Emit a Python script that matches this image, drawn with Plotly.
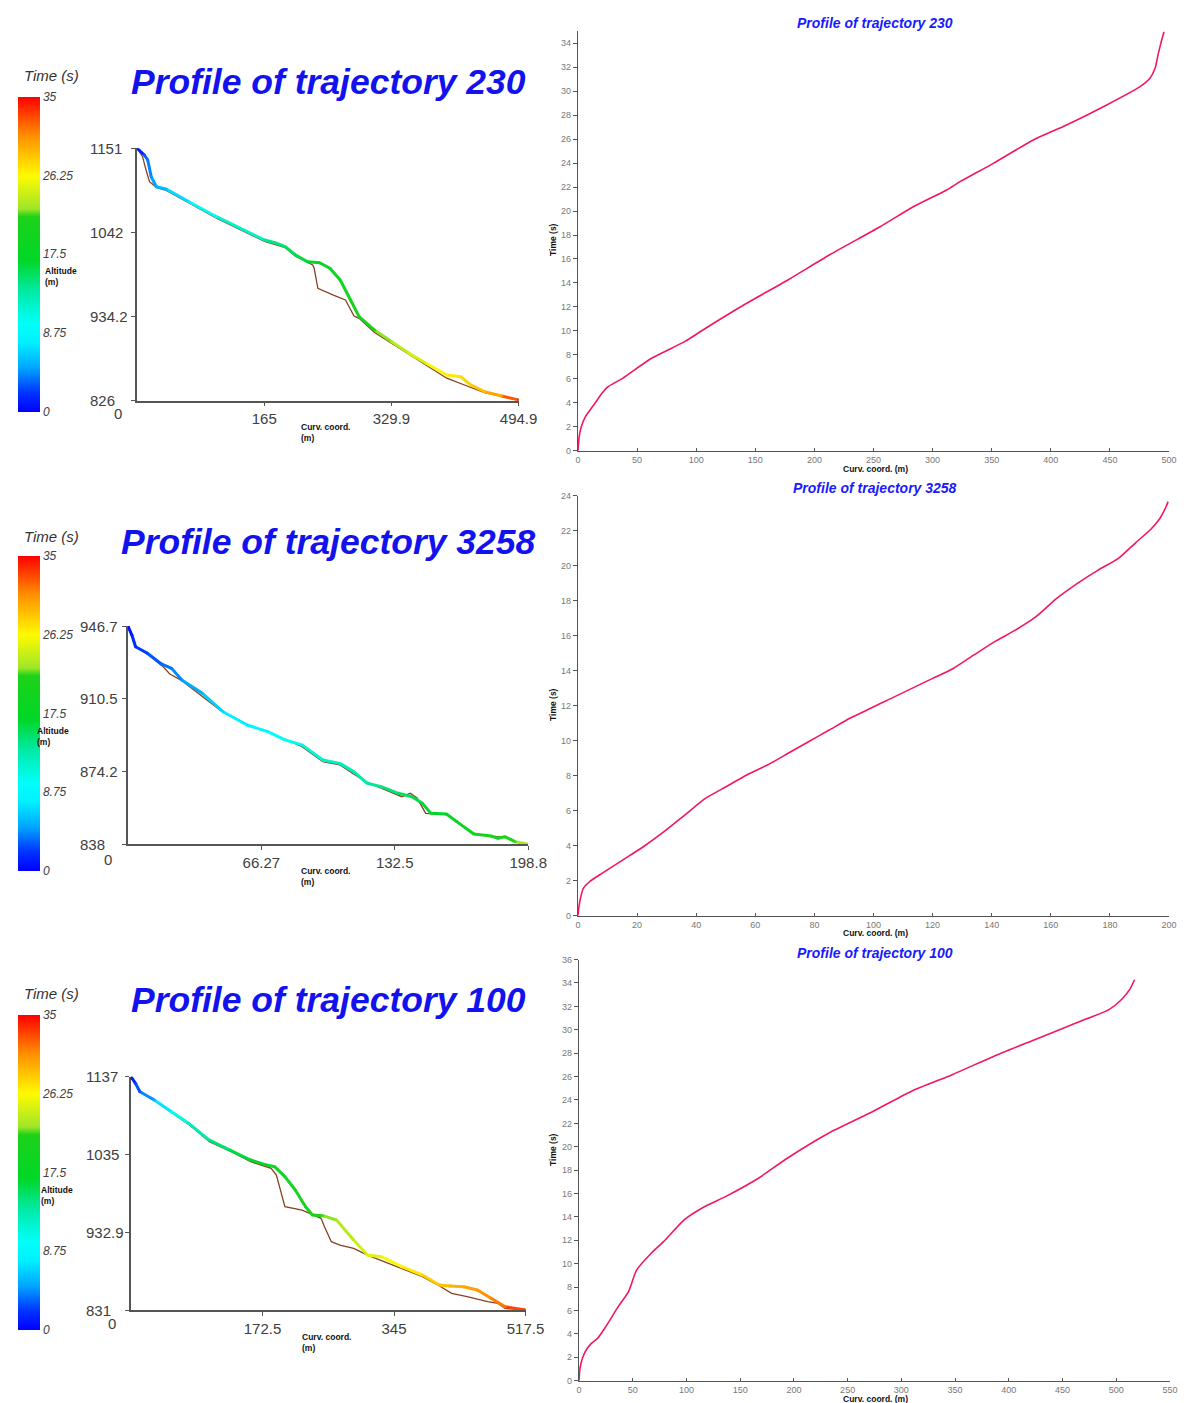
import plotly.graph_objects as go
from plotly.colors import sample_colorscale

W, H = 1187, 1403


def fx(px):
    return px / W


def fy(py):
    return 1 - py / H


# ---------------- data ----------------
traj_names = ["230", "3258", "100"]

# trajectory 230 : altitude profile (coloured by time) and terrain
s_230 = [0, 9.4, 13.8, 18.3, 25, 38.4, 67.3, 103, 165.4, 178.8, 192.2, 205.6, 221.1, 236.8,
         250.1, 263.5, 276.9, 288, 308, 330.4, 352.7, 374.9, 401.7, 419.6, 433, 450.8, 473.1, 494.9]
z_230 = [1151, 1142.4, 1135.9, 1114.4, 1101.5, 1098.2, 1082.2, 1062.9, 1032.9, 1029.4, 1024.3, 1013.6,
         1005, 1003.7, 996.5, 981.4, 955.7, 934.2, 917, 902, 887, 874.2, 859.1, 856.9, 846.2, 837.6, 832.1, 826.9]
t_230 = [0, 3.0, 3.8, 4.5, 5.3, 6.1, 7.9, 10.3, 13.6, 14.3, 15.0, 15.7, 16.6, 17.5,
         18.3, 19.1, 19.9, 20.6, 21.6, 23.3, 24.05, 25.3, 26.6, 27.5, 28.1, 29.0, 30.25, 34.5]
s_ter_230 = [0, 7.1, 11.6, 16.1, 25, 38.4, 67.3, 103, 165.4, 192.2, 205.6, 227.8, 229.7, 234.5,
             254.6, 270.3, 281.4, 288, 308, 330.4, 374.9, 401.7, 433, 450.8, 473.1, 494.9]
z_ter_230 = [1151, 1140.2, 1123, 1108, 1100.7, 1096.5, 1080.5, 1061, 1031, 1023, 1012, 1000.7, 996.5, 970.7,
             962, 955.7, 935, 932, 914, 900, 872.5, 855, 843, 836.5, 831.5, 826.5]

# trajectory 3258
s_3258 = [0, 2, 3.8, 9.7, 16.6, 21.7, 26.8, 37, 47.3, 59.2, 69.5, 78, 86.5, 96.8, 105.3, 112.1,
          118.9, 125.8, 134.3, 141.1, 146.2, 150.5, 158.2, 163.3, 171.8, 180.4, 183.8, 187.2, 192.3, 198.8]
z_3258 = [946.7, 942.2, 936.4, 933.1, 927.8, 925.6, 919.8, 913.2, 904, 897.4, 894.1, 890, 887.5, 880,
          878.3, 874.2, 868.4, 866.7, 863.4, 861.7, 858.4, 853.4, 853.1, 849.3, 843.1, 842.1, 841, 841.8, 839.3, 838]
t_3258 = [0, 1.6, 1.9, 2.6, 3.35, 3.9, 4.5, 5.85, 7.1, 8.3, 9.1, 9.95, 10.75, 11.7, 12.35, 12.9,
          13.45, 14.0, 14.9, 15.65, 16.15, 16.6, 17.6, 18.3, 19.3, 20.2, 20.55, 21.1, 21.9, 23.4]
s_ter_3258 = [0, 3.8, 9.7, 17.4, 20.8, 26.8, 47.3, 60.9, 71.2, 86.5, 96.8, 105.3, 112.1, 118.9, 125.8,
              136, 140.3, 143.7, 147.9, 158.2, 163.3, 171.8, 180.4, 187.2, 192.3, 198.8]
z_ter_3258 = [946.7, 936.4, 932.8, 926.5, 922.8, 919.5, 903.6, 896.9, 893.3, 886.6, 879.2, 877.5, 873, 868.7, 865.9,
              861.7, 863.4, 860.9, 853.4, 852.8, 849.3, 843.1, 842.1, 841.5, 839.3, 838]

# trajectory 100
s_100 = [0, 5.9, 11.7, 30.7, 53.2, 75.7, 102.8, 129.8, 156.9, 174.9, 188.4, 201.9, 215.5, 229, 238,
         251.5, 269.6, 292.1, 310.1, 328.2, 355.2, 382.3, 404.8, 418.3, 436.4, 454.4, 472.4, 490.5, 517.5]
z_100 = [1137, 1128.3, 1117.3, 1106.4, 1091.1, 1075.8, 1053.9, 1040.8, 1027.7, 1022, 1019, 1005.9, 988.4,
         966.5, 955.6, 954.7, 949, 922.8, 903.1, 900.9, 887.8, 876.9, 863.8, 862.5, 861.6, 857.2, 846.3, 835.4, 831]
t_100 = [0, 2.5, 3.2, 5.5, 9.4, 11.7, 14.0, 15.5, 16.8, 17.8, 18.7, 19.5, 20.3, 21.0, 21.4,
         22.0, 22.9, 23.9, 24.8, 25.5, 26.3, 27.6, 28.4, 28.9, 29.6, 30.2, 30.9, 31.6, 34.3]
s_ter_100 = [0, 11.7, 30.7, 53.2, 75.7, 102.8, 129.8, 156.9, 183.9, 190.7, 201.9, 224.4, 238, 249.3, 253.8,
             262.8, 274.1, 292.1, 310.1, 337.2, 382.3, 404.8, 420.6, 440.9, 467.9, 481.4, 490.5, 517.5]
z_ter_100 = [1137, 1117.3, 1105.5, 1090, 1074.5, 1051.8, 1039.5, 1025.5, 1016.8, 1008, 966.5, 962.1, 955.6, 951.2, 940.3,
             920.6, 916.2, 911.9, 903.1, 892.2, 874.7, 862.5, 852.9, 848.5, 841.9, 839.7, 833.2, 831]

# time vs curvilinear coordinate (right panels)
tc_s_230 = [0, 1, 2.8, 6.3, 13.3, 20.3, 25.5, 37.8, 62.2, 90.2, 107.7, 142.7, 177.6, 212.6, 255.5, 283.7,
            311.9, 323.2, 351.4, 385.2, 413.4, 447.3, 475.5, 483.9, 488.2, 491, 493.8, 495.8]
tc_t_230 = [0, 1.17, 2.0, 2.84, 3.81, 4.79, 5.34, 6.04, 7.71, 9.1, 10.2, 12.3, 14.25, 16.33, 18.69, 20.36,
            21.76, 22.45, 23.98, 25.93, 27.18, 28.85, 30.38, 31.08, 31.91, 33.16, 34.27, 34.97]
tc_s_3258 = [0, 0.4, 1.8, 3.9, 8.1, 15.1, 22.1, 29.1, 36.1, 43.1, 50.1, 57.1, 64.1, 71.1, 78, 85, 92, 99,
             106, 113, 120, 127, 134, 141, 148, 155, 162, 169, 176, 182.9, 188.5, 194.1, 196.9, 199, 199.7]
tc_t_3258 = [0, 0.61, 1.56, 1.94, 2.42, 3.18, 3.94, 4.8, 5.75, 6.7, 7.37, 8.04, 8.61, 9.28, 9.94, 10.61, 11.28,
             11.85, 12.42, 12.99, 13.56, 14.13, 14.9, 15.66, 16.32, 17.09, 18.13, 18.99, 19.75, 20.42, 21.28,
             22.13, 22.7, 23.37, 23.66]
tc_s_100 = [0, 1.2, 5.8, 11.5, 17.3, 24.9, 36.5, 46.1, 53.7, 67.2, 78.7, 97.9, 117.1, 136.3, 167, 193.8,
            232.2, 270.6, 309, 347.3, 385.7, 424.1, 462.5, 493.2, 504.7, 512.4, 517]
tc_t_100 = [0, 1.2, 2.48, 3.19, 3.62, 4.62, 6.33, 7.62, 9.47, 10.9, 11.89, 13.75, 14.89, 15.74, 17.31, 19.02,
            21.16, 22.88, 24.73, 26.16, 27.72, 29.15, 30.58, 31.72, 32.57, 33.43, 34.28]

# tick labels
alt_ticks_230 = ["826", "934.2", "1042", "1151"]
alt_ticks_3258 = ["838", "874.2", "910.5", "946.7"]
alt_ticks_100 = ["831", "932.9", "1035", "1137"]
curv_ticks_230 = ["165", "329.9", "494.9"]
curv_ticks_3258 = ["66.27", "132.5", "198.8"]
curv_ticks_100 = ["172.5", "345", "517.5"]
time_cbar_ticks = ["0", "8.75", "17.5", "26.25", "35"]

# ---------------- styles ----------------
CSCALE = [[0.0, "rgb(0,0,255)"], [0.06, "rgb(0,50,255)"], [0.14, "rgb(0,165,255)"],
          [0.22, "rgb(0,240,255)"], [0.28, "rgb(0,255,250)"], [0.38, "rgb(0,235,170)"],
          [0.48, "rgb(0,215,40)"], [0.62, "rgb(30,210,25)"], [0.645, "rgb(160,230,40)"],
          [0.75, "rgb(255,250,0)"], [0.88, "rgb(255,140,0)"], [1.0, "rgb(255,0,0)"]]
TERRAIN = "rgb(135,65,35)"
TITLE_BLUE = "#1212ee"
AX_COL = "#555555"
TXT = "#404040"
FONT = "Liberation Sans, Arial, sans-serif"
NARROW = "Liberation Sans Narrow, Liberation Sans, sans-serif"

profiles = [
    dict(name="230", s=s_230, z=z_230, t=t_230, st=s_ter_230, zt=z_ter_230,
         yt=alt_ticks_230, xt=curv_ticks_230,
         xdom=(137.1, 518.6), ydom=(148.3, 400.7), lab_x=88.4,
         cbar_top=96.7, cbar_x=17.6, title_y=82, time_y=75, alt_lab=(43.3, 276), curv_lab=(298.7, 432),
         zero_shift=(-19, -13)),
    dict(name="3258", s=s_3258, z=z_3258, t=t_3258, st=s_ter_3258, zt=z_ter_3258,
         yt=alt_ticks_3258, xt=curv_ticks_3258,
         xdom=(127.9, 528.2), ydom=(626, 844.3), lab_x=77.7,
         cbar_top=556, cbar_x=17.6, title_y=542, time_y=536, alt_lab=(34.7, 736), curv_lab=(298.7, 876),
         zero_shift=(-20, -15)),
    dict(name="100", s=s_100, z=z_100, t=t_100, st=s_ter_100, zt=z_ter_100,
         yt=alt_ticks_100, xt=curv_ticks_100,
         xdom=(131, 525.5), ydom=(1076.7, 1310), lab_x=83.9,
         cbar_top=1015, cbar_x=17.6, title_y=1000, time_y=993, alt_lab=(39.2, 1195), curv_lab=(300.4, 1342),
         zero_shift=(-19, -13)),
]

timecurves = [
    dict(s=tc_s_230, t=tc_t_230, xr=500, dx=50, yr=35, xdom=(578, 1169), ydom=(31.3, 450.7),
         title_y=23, xt_y=469, yt_y=240),
    dict(s=tc_s_3258, t=tc_t_3258, xr=200, dx=20, yr=24, xdom=(578, 1169), ydom=(495.7, 915.7),
         title_y=488, xt_y=933, yt_y=705),
    dict(s=tc_s_100, t=tc_t_100, xr=550, dx=50, yr=36, xdom=(579, 1170), ydom=(959.6, 1380.7),
         title_y=953, xt_y=1399, yt_y=1150),
]

fig = go.Figure()
annotations = []
layout_axes = {}

for i, p in enumerate(profiles):
    k = i + 1
    xa = "x" if k == 1 else f"x{k}"
    ya = "y" if k == 1 else f"y{k}"
    xvals = [float(v) for v in p["xt"]]
    yvals = [float(v) for v in p["yt"]]
    ymin, ymax = min(yvals), max(yvals)
    xmax = max(xvals)

    # terrain profile
    fig.add_trace(go.Scatter(x=p["st"], y=p["zt"], mode="lines", xaxis=xa, yaxis=ya,
                             line=dict(color=TERRAIN, width=1.3), hoverinfo="skip", showlegend=False))
    # trajectory altitude, coloured by time
    for j in range(len(p["s"]) - 1):
        tm = (p["t"][j] + p["t"][j + 1]) / 2 / 35.0
        col = sample_colorscale(CSCALE, [min(max(tm, 0), 1)])[0]
        fig.add_trace(go.Scatter(x=[p["s"][j], p["s"][j + 1]], y=[p["z"][j], p["z"][j + 1]],
                                 mode="lines", xaxis=xa, yaxis=ya, line=dict(color=col, width=3),
                                 hoverinfo="skip", showlegend=False))
    fig.add_trace(go.Scatter(
        x=p["s"], y=p["z"], mode="markers", xaxis=xa, yaxis=ya, showlegend=False,
        marker=dict(color=p["t"], colorscale=CSCALE, cmin=0, cmax=35, size=3,
                    showscale=True,
                    colorbar=dict(x=fx(p["cbar_x"]), xanchor="left", y=fy(p["cbar_top"]), yanchor="top",
                                  len=315, lenmode="pixels", thickness=22, thicknessmode="pixels",
                                  xpad=0, ypad=0, outlinewidth=0, ticks="",
                                  tickvals=[float(v) for v in time_cbar_ticks], ticktext=time_cbar_ticks,
                                  tickfont=dict(size=12, color=TXT, style="italic", family=FONT)))))

    layout_axes["xaxis" if k == 1 else f"xaxis{k}"] = dict(
        domain=[fx(p["xdom"][0]), fx(p["xdom"][1])], range=[0, xmax], anchor=ya,
        showgrid=False, zeroline=False, showline=True, linecolor=AX_COL, linewidth=1.5,
        ticks="outside", ticklen=4, tickcolor=AX_COL, tickvals=xvals, ticktext=p["xt"],
        tickfont=dict(size=15, color=TXT, family=FONT),
        automargin=False, fixedrange=True)
    layout_axes["yaxis" if k == 1 else f"yaxis{k}"] = dict(
        domain=[fy(p["ydom"][1]), fy(p["ydom"][0])], range=[ymin, ymax], anchor=xa,
        showgrid=False, zeroline=False, showline=True, linecolor=AX_COL, linewidth=1.5,
        ticks="outside", ticklen=4, tickcolor=AX_COL, tickvals=yvals, showticklabels=False,
        automargin=False, fixedrange=True)

    # left-aligned altitude tick labels
    for lab, v in zip(p["yt"], yvals):
        annotations.append(dict(text=lab, xref="paper", x=fx(p["lab_x"]), xanchor="left",
                                yref=ya, y=v, yanchor="middle", showarrow=False,
                                font=dict(size=15, color=TXT, family=FONT)))
    # origin "0" label on curvilinear axis
    annotations.append(dict(text="0", xref=xa, x=0, yref=ya, y=ymin, showarrow=False,
                            xshift=p["zero_shift"][0], yshift=p["zero_shift"][1],
                            font=dict(size=15, color=TXT, family=FONT)))
    # big title
    annotations.append(dict(text=f"<b><i>Profile of trajectory {p['name']}</i></b>", xref="paper",
                            x=fx(328.5), xanchor="center", yref="paper", y=fy(p["title_y"]),
                            yanchor="middle", showarrow=False,
                            font=dict(size=35.5, color=TITLE_BLUE, family=FONT)))
    # colorbar title
    annotations.append(dict(text="<i>Time (s)</i>", xref="paper", x=fx(22), xanchor="left",
                            yref="paper", y=fy(p["time_y"]), yanchor="middle", showarrow=False,
                            font=dict(size=15, color="#333333", family=FONT)))
    annotations.append(dict(text="<b>Altitude<br>(m)</b>", xref="paper", x=fx(p["alt_lab"][0]), xanchor="left",
                            yref="paper", y=fy(p["alt_lab"][1]), yanchor="middle", showarrow=False, align="left",
                            font=dict(size=8.5, color="#111111", family=FONT)))
    annotations.append(dict(text="<b>Curv. coord.<br>(m)</b>", xref="paper", x=fx(p["curv_lab"][0]), xanchor="left",
                            yref="paper", y=fy(p["curv_lab"][1]), yanchor="middle", showarrow=False, align="left",
                            font=dict(size=8.5, color="#111111", family=FONT)))

for i, c in enumerate(timecurves):
    k = i + 4
    xa, ya = f"x{k}", f"y{k}"
    fig.add_trace(go.Scatter(x=c["s"], y=c["t"], mode="lines", xaxis=xa, yaxis=ya,
                             line=dict(color="#f2185c", width=1.6, shape="spline", smoothing=0.6),
                             hoverinfo="skip", showlegend=False))
    layout_axes[f"xaxis{k}"] = dict(
        domain=[fx(c["xdom"][0]), fx(c["xdom"][1])], range=[0, c["xr"]], anchor=ya,
        showgrid=False, zeroline=False, showline=True, linecolor=AX_COL, linewidth=1.2,
        ticks="inside", ticklen=3, tickcolor=AX_COL, dtick=c["dx"], tick0=0,
        tickfont=dict(size=9, color="#777777", family=NARROW),
        automargin=False, fixedrange=True)
    layout_axes[f"yaxis{k}"] = dict(
        domain=[fy(c["ydom"][1]), fy(c["ydom"][0])], range=[0, c["yr"]], anchor=xa,
        showgrid=False, zeroline=False, showline=True, linecolor=AX_COL, linewidth=1.2,
        ticks="outside", ticklen=4, tickcolor=AX_COL, dtick=2, tick0=0,
        tickfont=dict(size=9, color="#777777", family=NARROW),
        automargin=False, fixedrange=True)
    annotations.append(dict(text=f"<b><i>Profile of trajectory {traj_names[i]}</i></b>", xref="paper",
                            x=fx(875), xanchor="center", yref="paper", y=fy(c["title_y"]), yanchor="middle",
                            showarrow=False, font=dict(size=14, color="#1a1aff", family=NARROW)))
    annotations.append(dict(text="<b>Curv. coord. (m)</b>", xref="paper", x=fx(875), xanchor="center",
                            yref="paper", y=fy(c["xt_y"]), yanchor="middle", showarrow=False,
                            font=dict(size=8.5, color="#111111", family=FONT)))
    annotations.append(dict(text="<b>Time (s)</b>", xref="paper", x=fx(553), xanchor="center",
                            yref="paper", y=fy(c["yt_y"]), yanchor="middle", showarrow=False, textangle=-90,
                            font=dict(size=8.5, color="#111111", family=FONT)))

fig.update_layout(
    width=W, height=H, margin=dict(l=0, r=0, t=0, b=0, pad=0),
    paper_bgcolor="white", plot_bgcolor="rgba(0,0,0,0)", showlegend=False,
    annotations=annotations, template="none", **layout_axes)

fig.write_html("out.html")
